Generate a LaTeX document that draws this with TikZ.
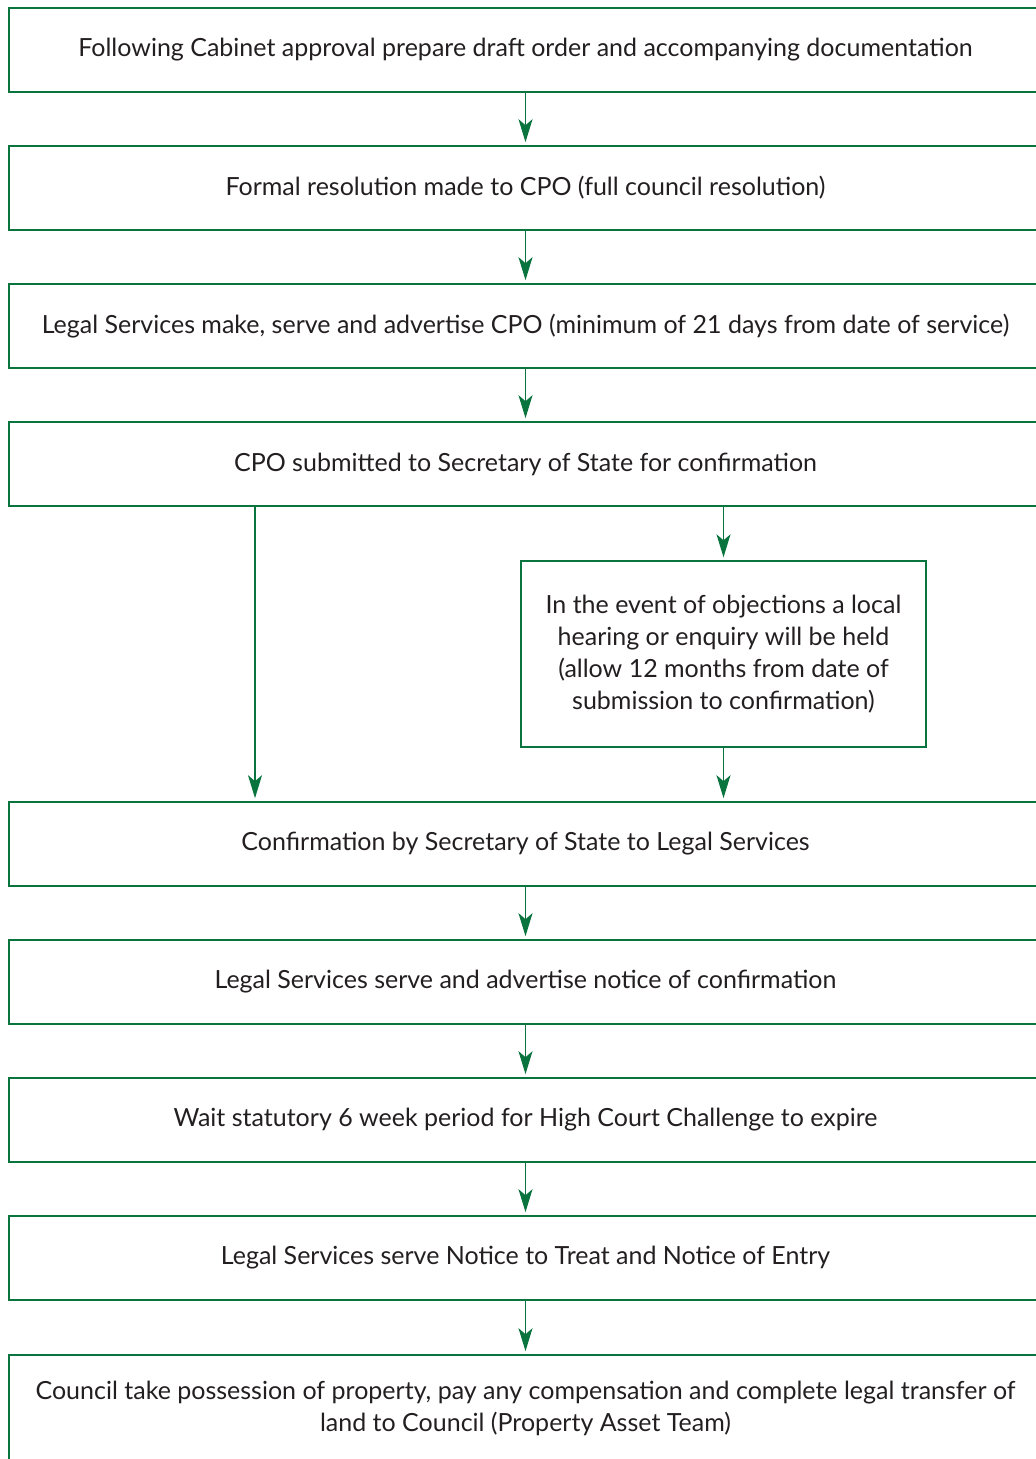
\documentclass[tikz,border=0pt]{standalone}
\usepackage{fontspec}
\setmainfont{Lato}
\usetikzlibrary{arrows.meta}
\definecolor{cpogreen}{RGB}{10,116,62}
\definecolor{ink}{RGB}{35,31,32}
\begin{document}
\begin{tikzpicture}[x=1pt,y=-1pt,
  stage/.style={draw=cpogreen,line width=1.6pt,minimum width=1033pt,minimum height=84pt,
    inner sep=0pt,font=\fontsize{25}{32}\selectfont,text=ink,align=center},
  sidebox/.style={draw=cpogreen,line width=1.4pt,minimum width=405pt,minimum height=186pt,
    inner sep=0pt,font=\fontsize{25}{32}\selectfont,text=ink,align=center},
  flow/.style={draw=cpogreen,line width=1.4pt,
    -{Stealth[length=23pt,width=14pt,inset=6pt]},shorten >=3pt}]
\useasboundingbox (0,0) rectangle (1036,1459);
\node[stage] (b1) at (525.5,50) {Following Cabinet approval prepare draft order and accompanying documentation};
\node[stage] (b2) at (525.5,188) {Formal resolution made to CPO (full council resolution)};
\node[stage] (b3) at (525.5,326) {Legal Services make, serve and advertise CPO (minimum of 21 days from date of service)};
\node[stage] (b4) at (525.5,464) {CPO submitted to Secretary of State for confirmation};
\node[sidebox] (s1) at (723.5,654) {In the event of objections a local\\hearing or enquiry will be held\\(allow 12 months from date of\\submission to confirmation)};
\node[stage] (b5) at (525.5,844) {Confirmation by Secretary of State to Legal Services};
\node[stage] (b6) at (525.5,982) {Legal Services serve and advertise notice of confirmation};
\node[stage] (b7) at (525.5,1120) {Wait statutory 6 week period for High Court Challenge to expire};
\node[stage] (b8) at (525.5,1258) {Legal Services serve Notice to Treat and Notice of Entry};
\node[stage,minimum height=106pt] (b9) at (525.5,1408) {Council take possession of property, pay any compensation and complete legal transfer of\\land to Council (Property Asset Team)};
\draw[flow] (b1.south) -- (b2.north);
\draw[flow] (b2.south) -- (b3.north);
\draw[flow] (b3.south) -- (b4.north);
\draw[flow] (b4.south -| 255,0) -- (b5.north -| 255,0);
\draw[flow] (b4.south -| s1.north) -- (s1.north);
\draw[flow] (s1.south) -- (b5.north -| s1.south);
\draw[flow] (b5.south) -- (b6.north);
\draw[flow] (b6.south) -- (b7.north);
\draw[flow] (b7.south) -- (b8.north);
\draw[flow] (b8.south) -- (b9.north);
\end{tikzpicture}
\end{document}
